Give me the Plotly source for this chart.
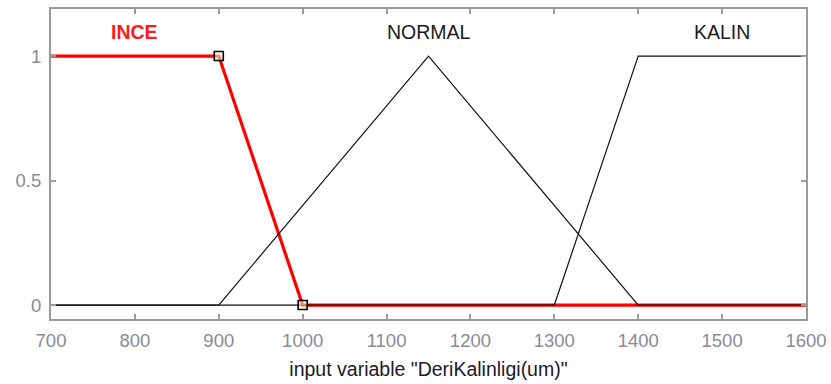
import plotly.graph_objects as go

# Membership functions of the input variable "DeriKalinligi(um)"
ince_x = [700, 900, 1000, 1600]
ince_y = [1, 1, 0, 0]

normal_x = [700, 900, 1150, 1400, 1600]
normal_y = [0, 0, 1, 0, 0]

kalin_x = [700, 1300, 1400, 1600]
kalin_y = [0, 0, 1, 1]

# Vertices of the selected function (INCE) shown as handles
handle_x = [900, 1000]
handle_y = [1, 0]

mf_names = ["<b>INCE</b>", "NORMAL", "KALIN"]
mf_label_x = [800, 1150, 1500]
mf_label_colors = ["#ff1a1a", "#1a1a1a", "#1a1a1a"]

x_ticks = [700, 800, 900, 1000, 1100, 1200, 1300, 1400, 1500, 1600]
y_ticks = [0, 0.5, 1]
y_tick_text = ["0", "0.5", "1"]

FONT = "Liberation Sans, Arial"

fig = go.Figure()

fig.add_trace(go.Scatter(x=ince_x, y=ince_y, mode="lines",
                         line=dict(color="#ff0000", width=3.2),
                         hoverinfo="skip"))
fig.add_trace(go.Scatter(x=normal_x, y=normal_y, mode="lines",
                         line=dict(color="#111111", width=1.2),
                         hoverinfo="skip"))
fig.add_trace(go.Scatter(x=kalin_x, y=kalin_y, mode="lines",
                         line=dict(color="#111111", width=1.2),
                         hoverinfo="skip"))
fig.add_trace(go.Scatter(x=handle_x, y=handle_y, mode="markers",
                         marker=dict(symbol="square", size=9,
                                     color="rgba(255,255,200,0.55)",
                                     line=dict(color="#000000", width=1.6)),
                         hoverinfo="skip"))

for name, lx, col in zip(mf_names, mf_label_x, mf_label_colors):
    fig.add_annotation(x=lx, y=1.095, xref="x", yref="y", text=name,
                       showarrow=False,
                       font=dict(family=FONT, size=19.5, color=col))

axis_common = dict(showline=True, linecolor="#9a9a9a", linewidth=2,
                   mirror="ticks", ticks="inside", ticklen=5,
                   tickcolor="#9a9a9a", tickwidth=1.5, showgrid=False,
                   zeroline=False, automargin=False,
                   tickfont=dict(family=FONT, size=18.5, color="#8a8a96"))

fig.update_xaxes(range=[700, 1600], tickvals=x_ticks, ticklabelstandoff=4,
                 title=dict(text='input variable "DeriKalinligi(um)"',
                            font=dict(family=FONT, size=19.5,
                                      color="#1a1a2a"),
                            standoff=12),
                 **axis_common)
fig.update_yaxes(range=[-0.056, 1.189], tickvals=y_ticks,
                 ticktext=y_tick_text, ticklabelstandoff=4, **axis_common)

fig.update_layout(width=831, height=384, showlegend=False,
                  margin=dict(l=51, r=25, t=9, b=65, autoexpand=False),
                  plot_bgcolor="#ffffff", paper_bgcolor="#ffffff")

fig.write_html("out.html")
